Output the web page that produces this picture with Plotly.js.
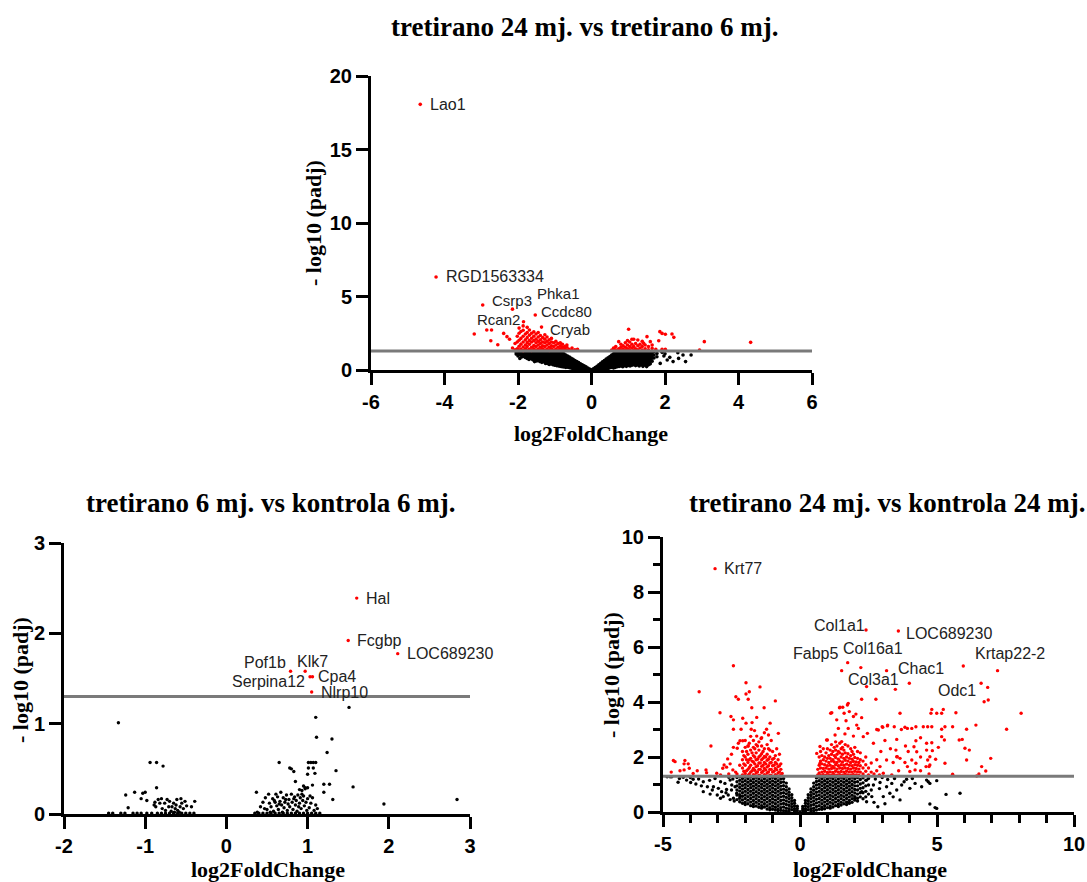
<!DOCTYPE html>
<html><head><meta charset="utf-8">
<script src="https://cdn.plot.ly/plotly-3.0.1.min.js"></script>
<style>html,body{margin:0;padding:0;background:#fff}#chart{width:1087px;height:882px}</style>
</head><body><div id="chart"></div>
<script>
// ---------- shared ----------
const sigThreshold = 1.3; // -log10(0.05)

// ---------- Plot 1: tretirano 24 mj. vs tretirano 6 mj. ----------
const p1Genes = ['Lao1','RGD1563334','Csrp3','Phka1','Rcan2','Ccdc80','Cryab'];
const p1GeneX = [-4.66,-4.23,-2.96,-2.15,-1.85,-1.53,-1.36];
const p1GeneY = [18.07,6.33,4.42,4.14,3.28,3.74,2.92];

const p1RedColX = [-3.19,-2.85,-2.72,-2.74,-2.55,-2.39,-2.3,-2.23,-2.15,-2.08,-2.02,-1.97,-1.92,-1.86,-1.8,-1.75,-1.69,-1.63,-1.57,-1.51,-1.45,-1.39,-1.33,-1.27,-1.21,-1.15,-1.09,-1.03,-0.97,-0.91,-0.85,-0.79,-0.73,-0.67,-0.61,-0.53,-0.45,-0.38,
  0.55,0.6,0.66,0.74,0.8,0.86,0.92,0.98,1.01,1.04,1.1,1.15,1.2,1.26,1.32,1.38,1.42,1.46,1.51,1.55,1.6,1.65,1.75,1.83,1.86,1.92,2.01,2.19,2.24,2.94,3.07,4.33];
const p1RedColY = [[2.45],[2.72],[2.72],[1.99],[1.72],[2.49],[2.27],[2.09],[1.5],[1.38,1.8],[1.45,1.9,2.3],[1.35,1.62,2.02,2.5,2.85],[1.42,1.76,2.15,2.62],[1.32,1.56,1.9,2.3,2.7,3.0],[1.45,1.7,2.05,2.45],[1.35,1.6,1.86,2.2,2.55,2.9],[1.41,1.75,2.0,2.36,2.72],[1.33,1.55,1.9,2.16,2.5],[1.45,1.66,2.0,2.3,2.6],[1.35,1.6,1.85,2.1,2.45],[1.42,1.7,1.95,2.25,2.55],[1.34,1.55,1.8,2.05,2.35],[1.45,1.65,1.9,2.2],[1.36,1.6,1.85,2.1,2.4],[1.42,1.7,1.95,2.25],[1.33,1.55,1.8,2.05],[1.45,1.65,1.9,2.15],[1.36,1.6,1.85],[1.42,1.7,1.95],[1.34,1.55,1.8],[1.45,1.65,1.85],[1.35,1.55,1.75],[1.42,1.6],[1.34,1.55,1.7],[1.4],[1.35,1.5],[1.38],[1.4],
  [1.35],[1.41,1.5],[1.38,1.6],[1.45,1.93],[1.35,1.55,1.75],[1.42,1.65],[1.34,1.55,1.85],[1.45,1.7,2.0],[2.77],[1.38,1.6,1.9],[1.5,1.75,2.09],[1.35,1.6,2.09],[1.45,1.8],[1.38,1.65,2.04],[1.5,1.75],[1.35,1.6,1.95],[1.81],[1.45,1.7],[2.27],[1.38,1.6],[1.93],[1.47,1.7],[1.4],[1.99],[2.61],[2.49,1.41],[2.43,1.41],[2.45],[2.22],[1.36],[1.93],[1.88]];

const p1BlackColX = [-2.05,-2.0,-1.95,-1.9,-1.85,-1.8,-1.75,-1.7,-1.65,-1.6,-1.55,-1.5,-1.45,-1.4,-1.35,-1.3,-1.25,-1.2,-1.15,-1.1,-1.05,-1.0,-0.95,-0.9,-0.85,-0.8,-0.75,-0.7,-0.65,-0.6,-0.55,-0.5,-0.45,-0.4,-0.35,-0.3,-0.25,-0.2,-0.15,-0.1,-0.05,0.0,
  0.05,0.1,0.15,0.2,0.25,0.3,0.35,0.4,0.45,0.5,0.55,0.6,0.65,0.7,0.75,0.8,0.85,0.9,0.95,1.0,1.05,1.1,1.15,1.2,1.25,1.3,1.35,1.4,1.45,1.5,1.55,1.6,1.65,1.7,1.78,1.87,1.92,1.97,2.0,2.06,2.13,2.22,2.35,2.37,2.49,2.56,2.71];
const p1BlackColY = [[1.22,1.08],[1.27,1.12,0.96],[1.2,1.05,0.79],[1.26,1.14,1.0,0.88],[1.21,1.07,0.93],[1.27,1.13,0.99,0.85],[1.19,1.05,0.91,0.78],[1.26,1.12,0.98,0.84,0.72],[1.2,1.06,0.92,0.78],[1.27,1.13,0.99,0.85,0.7],[1.21,1.07,0.93,0.79,0.57],[1.26,1.12,0.98,0.84,0.7,0.62],[1.19,1.05,0.91,0.77,0.63],[1.27,1.13,0.99,0.85,0.71,0.57],[1.2,1.06,0.92,0.78,0.64,0.52],[1.26,1.12,0.98,0.84,0.7,0.56],[1.21,1.07,0.93,0.79,0.65,0.51,0.44],[1.27,1.13,0.99,0.85,0.71,0.57,0.45],[1.19,1.05,0.91,0.77,0.63,0.49,0.38],[1.26,1.12,0.98,0.84,0.7,0.56,0.42],[1.2,1.06,0.92,0.78,0.64,0.5,0.36],[1.27,1.13,0.99,0.85,0.71,0.57,0.43,0.32],[1.21,1.07,0.93,0.79,0.65,0.51,0.37,0.3],[1.26,1.12,0.98,0.84,0.7,0.56,0.42,0.28],[1.2,1.06,0.92,0.78,0.64,0.5,0.36,0.25],[1.17,1.03,0.89,0.75,0.61,0.47,0.33,0.22],[1.1,0.96,0.82,0.68,0.54,0.4,0.28,0.2],[1.02,0.89,0.76,0.63,0.5,0.37,0.25,0.18],[0.95,0.82,0.69,0.56,0.43,0.3,0.19],[0.88,0.76,0.64,0.52,0.4,0.28,0.16],[0.8,0.68,0.56,0.44,0.32,0.21,0.13],[0.72,0.61,0.5,0.39,0.28,0.17,0.1],[0.65,0.55,0.45,0.35,0.25,0.15,0.08],[0.58,0.48,0.38,0.28,0.18,0.1,0.05],[0.5,0.41,0.32,0.23,0.14,0.07],[0.43,0.35,0.27,0.19,0.11,0.05],[0.36,0.29,0.22,0.15,0.08,0.03],[0.29,0.22,0.15,0.09,0.04],[0.21,0.15,0.09,0.04],[0.14,0.08,0.03],[0.07,0.02],[0.01],
  [0.08,0.03],[0.17,0.1,0.04],[0.26,0.18,0.1,0.04],[0.36,0.27,0.18,0.1,0.05],[0.45,0.35,0.25,0.16,0.08],[0.55,0.44,0.33,0.22,0.12,0.06],[0.64,0.53,0.42,0.31,0.2,0.1],[0.74,0.62,0.5,0.38,0.26,0.15,0.08],[0.83,0.7,0.57,0.44,0.31,0.19,0.1],[0.92,0.79,0.66,0.53,0.4,0.27,0.15],[1.02,0.88,0.74,0.6,0.46,0.32,0.18],[1.1,0.96,0.82,0.68,0.54,0.4,0.26,0.14],[1.2,1.05,0.9,0.75,0.6,0.45,0.3,0.18],[1.27,1.12,0.97,0.82,0.67,0.52,0.37,0.22],[1.21,1.07,0.93,0.79,0.65,0.51,0.37,0.24],[1.27,1.13,0.99,0.85,0.71,0.57,0.43,0.28],[1.2,1.06,0.92,0.78,0.64,0.5,0.36,0.22],[1.26,1.12,0.98,0.84,0.7,0.56,0.42,0.3],[1.19,1.05,0.91,0.77,0.63,0.49,0.35,0.25],[1.27,1.13,0.99,0.85,0.71,0.57,0.43,0.31],[1.21,1.07,0.93,0.79,0.65,0.51,0.37,0.27],[1.26,1.12,0.98,0.84,0.7,0.56,0.42,0.33],[1.2,1.06,0.92,0.78,0.64,0.5,0.36],[1.27,1.13,0.99,0.85,0.71,0.57,0.43,0.3],[1.19,1.05,0.91,0.77,0.63,0.49,0.35],[1.26,1.12,0.98,0.84,0.7,0.56,0.42,0.28],[1.21,1.07,0.93,0.79,0.65,0.51,0.37],[1.27,1.13,0.99,0.85,0.71,0.57,0.43,0.25],[1.2,1.06,0.92,0.78,0.64,0.5,0.36],[1.26,1.12,0.98,0.84,0.7,0.56,0.42,0.23],[1.19,1.05,0.91,0.77,0.63,0.49,0.35],[1.22,1.06,0.9,0.75,0.6,0.42],[1.15,0.97,0.8,0.6],[1.25,1.02,0.82],[1.13,0.9],[0.45],[1.2],[0.95],[1.1],[0.68],[0.86],[0.57],[1.18],[0.79],[1.02],[0.57],[1.02]];

// ---------- Plot 2: tretirano 6 mj. vs kontrola 6 mj. ----------
const p2Genes = ['Hal','Fcgbp','LOC689230','Pof1b','Klk7','Serpina12','Cpa4','Nlrp10'];
const p2GeneX = [1.605,1.50,2.11,0.79,0.97,1.03,1.06,1.05];
const p2GeneY = [2.39,1.92,1.775,1.58,1.58,1.52,1.52,1.35];

const p2BlackX = [-1.33,-0.94,-0.86,-0.78,-0.86,-1.24,-1.13,-1.03,-1.0,-1.21,-1.05,-0.98,
  -0.88,-0.84,-0.80,-0.82,-0.76,-0.73,-0.70,-0.65,-0.61,-0.56,-0.55,-0.51,-0.49,-0.43,-0.39,-0.67,-0.63,-0.60,-0.71,-0.87,-0.79,-0.53,-0.57,-0.62,-0.89,-0.75,-0.68,-0.58,-0.64,
  -1.45,-1.4,-1.3,-1.25,-1.15,-1.1,-1.05,-0.98,-0.92,-0.85,-0.8,-0.75,-0.7,-0.65,-0.6,-0.55,-0.5,-0.45,-0.4,
  0.37,0.65,0.78,0.80,0.83,1.01,1.04,1.07,1.10,1.01,1.07,1.0,1.09,0.85,0.97,1.0,0.9,0.97,1.06,1.24,1.35,1.20,1.27,1.20,1.31,1.51,1.10,1.11,1.30,1.56,1.94,2.84,0.95,0.93,
  0.38,0.42,0.45,0.48,0.5,0.52,0.53,0.55,0.57,0.58,0.6,0.61,0.62,0.63,0.64,0.66,0.67,0.68,0.69,0.7,0.71,0.72,0.74,0.75,0.76,0.77,0.78,0.8,0.81,0.82,0.84,0.85,0.86,0.87,0.88,0.9,0.91,0.92,0.94,0.95,0.96,0.98,1.0,1.02,1.04,1.06,1.08,1.1,1.12,0.73,0.65,0.59,0.83,0.89,0.93,0.99,1.03,0.54,0.47,
  0.35,0.4,0.45,0.5,0.55,0.6,0.65,0.7,0.75,0.8,0.85,0.9,0.95,1.0,1.05,1.1,1.15];
const p2BlackY = [1.01,0.57,0.57,0.53,0.29,0.21,0.24,0.23,0.24,0.07,0.17,0.15,
  0.13,0.16,0.17,0.12,0.12,0.16,0.14,0.12,0.16,0.17,0.12,0.14,0.09,0.08,0.14,0.08,0.06,0.04,0.08,0.08,0.06,0.06,0.08,0.1,0.1,0.04,0.03,0.02,0.02,
  0.01,0.01,0.01,0.01,0.01,0.01,0.01,0.01,0.01,0.01,0.01,0.01,0.01,0.01,0.01,0.01,0.01,0.01,0.01,
  0.24,0.57,0.51,0.50,0.47,0.57,0.57,0.57,0.57,0.51,0.51,0.44,0.45,0.36,0.29,0.29,0.27,0.28,0.32,0.68,0.48,0.33,0.33,0.24,0.16,1.18,1.07,0.85,0.83,0.30,0.11,0.16,0.31,0.26,
  0.02,0.08,0.13,0.18,0.05,0.22,0.12,0.08,0.17,0.03,0.13,0.22,0.09,0.19,0.05,0.14,0.24,0.1,0.02,0.18,0.07,0.13,0.21,0.04,0.11,0.16,0.08,0.22,0.13,0.05,0.19,0.1,0.15,0.03,0.21,0.12,0.18,0.06,0.15,0.2,0.09,0.13,0.17,0.07,0.12,0.18,0.04,0.1,0.06,0.16,0.11,0.15,0.17,0.08,0.22,0.04,0.2,0.02,0.06,
  0.01,0.01,0.01,0.01,0.01,0.01,0.01,0.01,0.01,0.01,0.01,0.01,0.01,0.01,0.01,0.01,0.01];

// ---------- Plot 3: tretirano 24 mj. vs kontrola 24 mj. ----------
const p3Genes = ['Krt77','Col1a1','LOC689230','Fabp5','Col16a1','Col3a1','Chac1','Odc1','Krtap22-2'];
const p3GeneX = [-3.10,2.41,3.59,1.52,1.74,2.43,3.16,3.99,5.96];
const p3GeneY = [8.85,6.62,6.58,5.14,5.43,4.56,5.14,4.68,5.31];

const p3RedColX = [-2.1,-2.05,-2.0,-1.95,-1.9,-1.85,-1.8,-1.75,-1.7,-1.65,-1.6,-1.55,-1.5,-1.45,-1.4,-1.35,-1.3,-1.25,-1.2,-1.15,-1.1,-1.05,-1.0,-0.95,-0.9,-0.85,-0.8,-0.75,-0.7,-0.65,
  0.65,0.7,0.75,0.8,0.85,0.9,0.95,1.0,1.05,1.1,1.15,1.2,1.25,1.3,1.35,1.4,1.45,1.5,1.55,1.6,1.65,1.7,1.75,1.8,1.85,1.9,1.95,2.0,2.05,2.1,2.15,2.2,2.3,2.4,2.5,2.6,2.7,2.8,2.9];
const p3RedColY = [[1.35,1.6,1.9,2.2],[1.48,1.75,2.05],[1.4,1.7,2.0,2.35,2.6],[1.5,1.9,2.2],[1.33,1.55,1.8,2.1,2.4],[1.38,1.62,1.9,2.5],[1.45,1.7,1.95,2.25,2.75],[1.5,1.85,2.15],[1.36,1.58,1.82,2.05,2.35,2.6],[1.32,1.52,1.75,2.0,2.3],[1.42,1.65,1.9,2.15,2.45],[1.46,1.68,1.92,2.4],[1.34,1.55,1.78,2.0,2.25,2.55],[1.32,1.55,1.78,2.05],[1.44,1.66,1.9,2.12,2.4,2.7],[1.48,1.7,1.95,2.2],[1.36,1.58,1.8,2.02,2.3],[1.32,1.53,1.75,2.0],[1.42,1.64,1.88,2.1,2.45],[1.46,1.68,1.92,2.3],[1.34,1.55,1.78,2.0,2.25],[1.33,1.55,1.8],[1.45,1.68,1.92,2.2],[1.48,1.7,1.95],[1.36,1.58,1.8,2.05],[1.32,1.54,1.75],[1.42,1.65,1.9],[1.46,1.68],[1.35,1.55,1.75],[1.4],
  [1.35,1.55],[1.42,1.7,2.0],[1.33,1.6,1.85,2.2],[1.45,1.75,2.05],[1.36,1.58,1.9,2.3],[1.48,1.72,2.0],[1.34,1.6,1.85,2.15],[1.44,1.68,1.95,2.3,2.62],[1.35,1.56,1.8,2.05],[1.46,1.7,1.95,2.25],[1.34,1.58,1.85,2.1,2.45],[1.44,1.66,1.9,2.2],[1.36,1.6,1.82,2.05,2.35],[1.48,1.72,1.98,2.25,2.55],[1.34,1.56,1.8,2.1,2.4],[1.45,1.68,1.92,2.2],[1.36,1.6,1.85,2.15,2.5],[1.47,1.72,2.0,2.3],[1.34,1.58,1.82,2.1,2.35],[1.45,1.7,1.95,2.25],[1.37,1.6,1.88,2.15,2.45],[1.48,1.74,2.0],[1.35,1.58,1.85,2.12,2.4],[1.46,1.7,1.95],[1.34,1.56,1.8,2.05,2.3],[1.45,1.68,1.92,2.2],[1.36,1.6,1.84,2.1],[1.48,1.72,1.98,2.35],[1.35,1.58,1.82],[1.46,1.7,1.95,2.2],[1.34,1.56,1.8],[1.45,1.68,1.9,2.15],[1.38,1.6,1.85],[1.48,1.72,2.0],[1.35,1.6],[1.45,1.78],[1.38],[1.5],[1.35]];

const p3RedX = [-2.43,-3.68,-1.97,-1.46,-1.85,-1.97,-2.34,-2.25,-1.89,-0.90,-2.92,-1.76,-1.31,-2.52,-2.43,-2.09,-1.97,-1.09,-1.58,-2.43,-2.15,-1.78,-1.66,-1.30,-1.22,-0.79,-1.58,-1.42,-3.25,-2.19,-2.09,-1.89,-2.43,-2.29,-2.64,-2.55,-4.56,-4.62,-4.20,-4.23,-4.08,-4.04,-4.38,-4.23,-3.75,-3.43,-3.41,-3.04,-2.77,-2.68,-2.82,-2.45,-2.35,-3.9,-4.7,-2.9,-2.6,-2.3,-2.2,-2.5,-2.25,-1.05,-0.85,-0.75,-1.15,-1.75,
  2.25,2.77,1.46,1.56,1.76,1.16,1.80,2.04,1.44,1.73,1.12,1.61,1.95,2.25,1.34,1.68,2.07,1.40,1.76,2.13,2.80,3.0,3.20,1.28,1.64,1.95,2.31,2.68,0.97,1.52,2.46,0.73,0.61,0.73,3.04,3.35,2.92,3.16,3.53,4.01,4.2,
  2.86,3.02,3.19,3.83,3.92,4.08,4.23,3.53,3.50,3.55,3.65,4.23,4.16,4.26,4.08,4.23,3.83,3.92,4.62,4.74,4.60,2.22,3.48,6.61,6.85,6.72,6.87,8.07,7.54,6.42,6.08,7.21,
  4.81,4.78,4.99,5.17,5.23,5.69,4.66,4.81,5.17,5.29,5.57,5.17,5.27,5.81,5.92,4.62,4.81,5.05,4.83,4.66,4.95,4.74,4.71,6.02,6.18,5.29,6.08,6.96,6.63,6.78,5.57,6.45,6.53,4.71,3.65,3.44,
  3.3,3.4,3.6,3.85,3.95,4.4,4.4,3.1,2.95,2.8,3.7,4.4,4.5];
const p3RedY = [5.32,4.37,4.70,4.55,4.37,4.29,4.19,4.10,4.10,4.04,3.61,3.79,3.79,3.47,3.35,3.41,3.23,3.23,3.44,3.01,3.01,3.01,2.96,2.88,3.01,2.86,2.76,2.67,2.40,2.59,2.59,2.40,2.35,2.32,1.93,1.75,1.83,1.87,1.87,1.75,1.75,1.59,1.50,1.53,1.5,1.53,1.43,1.41,1.71,1.63,1.59,1.53,1.45,1.4,1.45,1.35,1.38,1.38,1.7,2.1,2.5,2.6,2.3,2.1,2.8,3.25,
  4.10,4.10,3.81,3.81,3.95,3.61,3.65,3.56,3.79,3.89,3.59,3.59,3.47,3.43,3.35,3.32,3.16,3.04,3.04,3.04,3.0,3.1,3.16,2.80,2.84,2.76,2.74,2.50,2.62,2.56,2.86,2.38,2.13,1.77,1.41,1.35,1.65,1.89,2.01,1.47,1.53,
  2.98,3.08,3.13,3.08,3.04,3.04,3.10,2.64,2.25,2.01,1.95,2.59,2.37,2.19,1.89,1.77,1.80,1.65,2.25,2.01,1.65,5.25,4.46,4.68,4.53,4.01,4.07,3.59,3.01,3.16,3.01,5.14,
  3.73,3.59,3.59,3.59,3.73,3.61,3.10,3.10,3.01,3.10,3.10,2.74,2.62,2.62,2.64,2.50,2.52,2.35,2.23,1.89,1.92,1.71,1.65,2.32,2.25,1.77,1.89,1.95,1.65,1.49,1.37,1.31,1.38,1.38,3.59,3.1,
  2.3,1.8,1.5,2.4,2.2,1.5,2.0,2.6,2.2,1.9,3.0,2.7,3.1];

const p3BlackColX = [-2.3,-2.2,-2.1,-2.0,-1.9,-1.8,-1.7,-1.6,-1.5,-1.4,-1.3,-1.2,-1.1,-1.0,-0.9,-0.8,-0.7,-0.6,-0.5,-0.4,-0.3,-0.2,-0.1,0.0,
  0.1,0.2,0.3,0.4,0.5,0.6,0.7,0.8,0.9,1.0,1.1,1.2,1.3,1.4,1.5,1.6,1.7,1.8,1.9,2.0,2.1,2.2,2.3,2.4,2.5];
const p3BlackColY = [[1.25,1.1,0.95,0.8,0.62,0.45],[1.28,1.15,1.02,0.89,0.76,0.63,0.5,0.37],[1.22,1.09,0.96,0.83,0.7,0.57,0.44,0.32],[1.27,1.14,1.01,0.88,0.75,0.62,0.49,0.36,0.27],[1.21,1.08,0.95,0.82,0.69,0.56,0.43,0.3],[1.27,1.14,1.01,0.88,0.75,0.62,0.49,0.36,0.23],[1.2,1.07,0.94,0.81,0.68,0.55,0.42,0.29,0.2],[1.26,1.13,1.0,0.87,0.74,0.61,0.48,0.35,0.22],[1.2,1.07,0.94,0.81,0.68,0.55,0.42,0.29,0.17],[1.27,1.14,1.01,0.88,0.75,0.62,0.49,0.36,0.23,0.14],[1.21,1.08,0.95,0.82,0.69,0.56,0.43,0.3,0.18],[1.27,1.14,1.01,0.88,0.75,0.62,0.49,0.36,0.23,0.11],[1.2,1.07,0.94,0.81,0.68,0.55,0.42,0.29,0.16,0.08],[1.26,1.13,1.0,0.87,0.74,0.61,0.48,0.35,0.22,0.1],[1.21,1.08,0.95,0.82,0.69,0.56,0.43,0.3,0.17,0.07],[1.27,1.14,1.01,0.88,0.75,0.62,0.49,0.36,0.23,0.11,0.05],[1.2,1.07,0.94,0.81,0.68,0.55,0.42,0.29,0.16,0.06],[1.22,1.09,0.96,0.83,0.7,0.57,0.44,0.31,0.18,0.05],[1.05,0.92,0.79,0.66,0.53,0.4,0.27,0.14,0.04],[0.84,0.72,0.6,0.48,0.36,0.24,0.12,0.03],[0.63,0.52,0.41,0.3,0.19,0.08],[0.42,0.32,0.22,0.12,0.04],[0.21,0.13,0.05],[0.01],
  [0.2,0.12,0.05],[0.42,0.32,0.22,0.12,0.04],[0.63,0.52,0.41,0.3,0.19,0.08],[0.84,0.72,0.6,0.48,0.36,0.24,0.12,0.04],[1.05,0.92,0.79,0.66,0.53,0.4,0.27,0.14,0.05],[1.24,1.11,0.98,0.85,0.72,0.59,0.46,0.33,0.2,0.07],[1.27,1.14,1.01,0.88,0.75,0.62,0.49,0.36,0.23,0.1],[1.21,1.08,0.95,0.82,0.69,0.56,0.43,0.3,0.17,0.1],[1.27,1.14,1.01,0.88,0.75,0.62,0.49,0.36,0.23,0.12],[1.2,1.07,0.94,0.81,0.68,0.55,0.42,0.29,0.16],[1.26,1.13,1.0,0.87,0.74,0.61,0.48,0.35,0.22,0.14],[1.21,1.08,0.95,0.82,0.69,0.56,0.43,0.3,0.18],[1.27,1.14,1.01,0.88,0.75,0.62,0.49,0.36,0.23],[1.2,1.07,0.94,0.81,0.68,0.55,0.42,0.29,0.2],[1.26,1.13,1.0,0.87,0.74,0.61,0.48,0.35,0.25],[1.21,1.08,0.95,0.82,0.69,0.56,0.43,0.3],[1.27,1.14,1.01,0.88,0.75,0.62,0.49,0.36,0.27],[1.2,1.07,0.94,0.81,0.68,0.55,0.42,0.32],[1.26,1.13,1.0,0.87,0.74,0.61,0.48,0.35],[1.21,1.08,0.95,0.82,0.69,0.56,0.43],[1.25,1.1,0.95,0.8,0.65,0.5,0.4],[1.18,1.02,0.86,0.7,0.55],[1.24,1.06,0.88,0.7,0.48],[1.15,0.95,0.75,0.55],[1.22,0.98,0.65]];

const p3BlackX = [-4.74,-4.68,-4.26,-4.14,-3.99,-3.90,-3.80,-3.53,-3.38,-3.53,-3.28,-3.16,-2.98,-3.02,-2.86,-2.74,-2.68,-2.55,-2.49,-2.37,-2.31,-2.80,-2.62,-2.43,-2.19,-4.4,-4.0,-3.7,-3.3,-3.1,-2.9,-2.6,-2.45,-2.5,-2.7,-2.4,-2.55,-3.6,-3.2,-2.9,-4.45,-4.85,
  2.43,2.68,2.92,3.16,3.35,3.53,3.71,3.89,4.01,4.20,4.44,4.62,2.84,2.62,3.04,3.28,2.25,3.65,2.43,2.0,4.68,4.99,4.74,5.33,5.84,4.74,4.93,2.75,3.0,3.2,2.6,2.9,3.45,3.8,4.1,2.7,3.1,3.4,4.99];
const p3BlackY = [1.28,1.28,1.26,1.16,1.07,1.19,1.02,1.10,0.92,0.74,0.65,0.92,0.86,0.62,0.74,1.04,0.82,1.16,0.98,0.92,0.68,0.56,0.62,0.50,0.56,1.22,1.25,1.2,1.15,1.22,1.1,1.26,1.2,0.8,0.7,0.4,0.45,0.95,0.8,0.5,1.08,1.28,
  1.16,0.98,1.07,0.92,1.04,0.80,0.98,1.19,0.86,1.04,0.92,1.16,0.19,0.56,0.56,0.68,0.74,0.44,0.37,0.5,1.10,1.14,1.04,0.64,0.68,0.29,0.16,1.2,1.25,1.18,0.8,0.85,1.22,1.1,1.22,0.35,0.3,0.55,0.13];

// ---------- tick labels ----------
const p1XTicks = [-6,-4,-2,0,2,4,6];
const p1YTicks = [0,5,10,15,20];
const p2XTicks = [-2,-1,0,1,2,3];
const p2YTicks = [0,1,2,3];
const p3XTicks = [-5,0,5,10];
const p3YTicks = [0,2,4,6,8,10];

const titles = ['tretirano 24 mj. vs tretirano 6 mj.','tretirano 6 mj. vs kontrola 6 mj.','tretirano 24 mj. vs kontrola 24 mj.'];
const xTitle = 'log2FoldChange';
const yTitle = '- log10 (padj)';

// ---------- build ----------
function cols(xs, ys){ const X=[],Y=[]; xs.forEach((x,i)=>ys[i].forEach(y=>{X.push(x);Y.push(y);})); return [X,Y]; }
function pts(x,y,xa,ya,color,size){ return {type:'scatter',mode:'markers',x:x,y:y,xaxis:xa,yaxis:ya,marker:{color:color,size:size,line:{width:0}},hoverinfo:'x+y',showlegend:false}; }

const [b1x,b1y] = cols(p1BlackColX,p1BlackColY);
const [r1x,r1y] = cols(p1RedColX,p1RedColY);
const [b3x,b3y] = cols(p3BlackColX,p3BlackColY);
const [r3x,r3y] = cols(p3RedColX,p3RedColY);

const data = [
  pts(b1x,b1y,'x','y','#000',3.6),
  pts(r1x,r1y,'x','y','#ff0000',3.6),
  pts(p1GeneX,p1GeneY,'x','y','#ff0000',3.6),
  pts(p2BlackX,p2BlackY,'x2','y2','#000',3.4),
  pts(p2GeneX,p2GeneY,'x2','y2','#ff0000',3.4),
  pts(b3x.concat(p3BlackX),b3y.concat(p3BlackY),'x3','y3','#000',3.4),
  pts(r3x.concat(p3RedX),r3y.concat(p3RedY),'x3','y3','#ff0000',3.4),
  pts(p3GeneX,p3GeneY,'x3','y3','#ff0000',3.4)
];

const W=1087,H=882;
const tickFont = {family:'Liberation Sans, Arial, sans-serif', size:20, color:'#000', weight:'bold'};
function axis(dom, anchor, range, vals, extra){
  return Object.assign({domain:dom, anchor:anchor, range:range, tickmode:'array', tickvals:vals, ticktext:vals.map(v=>String(v)),
    showline:true, linewidth:3, linecolor:'#000', ticks:'outside', ticklen:12, tickwidth:3, tickcolor:'#000',
    showgrid:false, zeroline:false, tickfont:tickFont, fixedrange:true}, extra||{});
}
const minorX = {minor:{tickmode:'linear', tick0:0, dtick:1, ticks:'outside', ticklen:8, tickwidth:3, tickcolor:'#000', showgrid:false}};
const minorY = {minor:{tickmode:'linear', tick0:0, dtick:1, ticks:'outside', ticklen:7, tickwidth:3, tickcolor:'#000', showgrid:false}};

// label offsets (pixels) for gene name annotations: [xanchor, xshift, yshift, fontsize]
const p1LabelStyle = [['left',8,0,16],['left',8,0,16],['left',7,5,15],['left',23,16,15],['right',-2,2,15],['left',4,4,15],['left',6,-2,15]];
const p2LabelStyle = [['left',7,0,16],['left',7,0,16],['left',7,0,16],['right',-3,9,16],['left',-10,10,16],['right',-3,-5,16],['left',4,0,16],['left',7,0,16]];
const p3LabelStyle = [['left',7,0,16],['right',1,4,16],['left',6,-2,16],['right',-2,17,16],['left',-7,14,16],['left',-21,7,16],['left',9,2,16],['left',27,-7,16],['left',10,12,16]];

const annotations = [];
function geneLabels(names,xs,ys,styles,xa,ya){
  names.forEach((n,i)=>annotations.push({text:n,x:xs[i],y:ys[i],xref:xa,yref:ya,showarrow:false,xanchor:styles[i][0],yanchor:'middle',xshift:styles[i][1],yshift:styles[i][2],
    font:{family:'Liberation Sans, Arial, sans-serif',size:styles[i][3],color:'#222'}}));
}
geneLabels(p1Genes,p1GeneX,p1GeneY,p1LabelStyle,'x','y');
geneLabels(p2Genes,p2GeneX,p2GeneY,p2LabelStyle,'x2','y2');
geneLabels(p3Genes,p3GeneX,p3GeneY,p3LabelStyle,'x3','y3');

const titleFont = {family:'Liberation Serif, Times New Roman, serif', size:27, color:'#000', weight:'bold'};
const axTitleFont = {family:'Liberation Serif, Times New Roman, serif', size:22, color:'#000', weight:'bold'};
function paperText(text,px,py,font,angle){
  annotations.push({text:text,x:px/W,y:1-py/H,xref:'paper',yref:'paper',showarrow:false,xanchor:'center',yanchor:'middle',font:font,textangle:angle||0});
}
paperText(titles[0],584,27,titleFont);
paperText(titles[1],270,503,titleFont);
paperText(titles[2],887,503,titleFont);
paperText(xTitle,591,433,axTitleFont);
paperText(xTitle,268,869,axTitleFont);
paperText(xTitle,870,869,axTitleFont);
paperText(yTitle,313,223,axTitleFont,-90);
paperText(yTitle,20,680,axTitleFont,-90);
paperText(yTitle,611,675,axTitleFont,-90);

const line = (xa,ya,x0,x1)=>({type:'line',xref:xa,yref:ya,x0:x0,x1:x1,y0:sigThreshold,y1:sigThreshold,line:{color:'#7a7a7a',width:3},layer:'above'});

const layout = {
  width:W, height:H, margin:{l:0,r:0,t:0,b:0}, paper_bgcolor:'#fff', plot_bgcolor:'rgba(0,0,0,0)', showlegend:false,
  xaxis: axis([371/W,812/W],'y',[-6,6],p1XTicks),
  yaxis: axis([1-370/H,1-76/H],'x',[0,20],p1YTicks),
  xaxis2: axis([64/W,470/W],'y2',[-2,3],p2XTicks),
  yaxis2: axis([1-814/H,1-543/H],'x2',[0,3],p2YTicks),
  xaxis3: axis([663/W,1074/W],'y3',[-5,10],p3XTicks,minorX),
  yaxis3: axis([1-812/H,1-537/H],'x3',[0,10],p3YTicks,minorY),
  shapes:[line('x','y',-6,6),line('x2','y2',-2,3),line('x3','y3',-5,10)],
  annotations:annotations
};
Plotly.newPlot('chart',data,layout,{displayModeBar:false,staticPlot:true});
</script></body></html>
